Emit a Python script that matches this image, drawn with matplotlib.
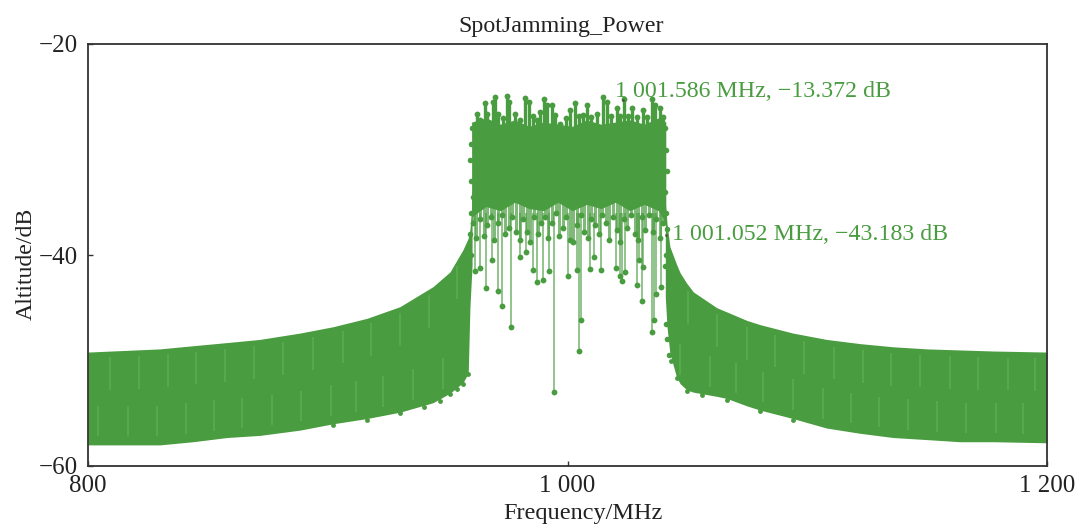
import numpy as np
import matplotlib
matplotlib.use('Agg')
import matplotlib.pyplot as plt

plt.rcParams['font.family'] = ['Liberation Serif', 'DejaVu Serif']

GREEN = '#4a9c40'
PALE = '#5fb352'
DARK = '#222222'

# skirts (MHz, dB)
left_freq = [800, 830, 843.8, 858, 871.7, 888.4, 902.2, 916.4, 930.1, 943.9, 951, 956.4, 958.6, 959.3, 960.2]
left_top = [-49.2, -48.9, -48.6, -48.3, -48.0, -47.4, -46.8, -46.0, -44.9, -43.0, -41.6, -39.5, -38.4, -37.6, -35.0]
left_low = [-58.0, -58.0, -57.7, -57.3, -57.1, -56.6, -56.0, -55.5, -54.9, -54.0, -53.1, -52.1, -51.2, -45.0, -41.0]

right_freq = [1040.8, 1041.5, 1042.7, 1045.5, 1047, 1049.8, 1052.5, 1062.3, 1066.5, 1074.8, 1080.3, 1094, 1108,
              1122, 1135.8, 1150, 1163.7, 1177.6, 1200]
right_top = [-35.0, -37.0, -39.2, -40.9, -41.7, -42.7, -43.5, -45.0, -45.4, -46.2, -46.6, -47.4, -48.0,
             -48.4, -48.7, -48.9, -49.0, -49.1, -49.2]
right_low = [-44.0, -46.8, -49.3, -51.6, -52.2, -52.8, -53.0, -53.4, -53.6, -54.3, -54.7, -55.5, -56.4,
             -56.9, -57.3, -57.5, -57.7, -57.7, -57.8]

# solid core of the jammed band
core_freq = [960, 966, 972, 978, 984, 990, 996, 1002, 1008, 1014, 1020, 1026, 1032, 1038, 1041]
core_top = [-27.4, -27.0, -27.6, -27.2, -27.8, -27.4, -27.6, -27.8, -27.2, -27.6, -27.4, -27.2, -27.6, -27.0, -27.4]
core_low = [-36.4, -35.4, -35.8, -35.0, -35.6, -35.8, -35.0, -35.8, -35.2, -35.6, -35.0, -35.8, -35.2, -35.8, -37.0]

# spike tips above the core
top_freq = [962.1, 963.6, 965.6, 966.3, 968.8, 969.7, 971.1, 973.0, 974.6, 975.6, 978.1, 980.0, 982.3, 984.1, 985.6,
            987.1, 988.5, 990.2, 991.3, 993.7, 994.8, 997.0, 999.2, 1001.0, 1003.1, 1005.0, 1006.6, 1008.0, 1010.0,
            1012.2, 1014.9, 1016.3, 1018.2, 1020.5, 1022.0, 1023.6, 1025.4, 1026.8, 1029.0, 1031.6, 1033.2, 1035.1,
            1036.5, 1038.6, 1040.0]
top_db = [-26.6, -27.2, -25.6, -26.6, -25.5, -25.0, -26.6, -27.0, -24.9, -25.5, -26.6, -27.2, -25.1, -25.5, -26.8,
          -27.2, -26.4, -25.2, -25.8, -25.8, -26.7, -27.6, -27.0, -26.3, -25.6, -26.8, -26.7, -25.8, -26.9,
          -26.6, -25.0, -25.5, -26.8, -26.1, -26.8, -25.2, -26.8, -26.1, -26.9, -26.3, -26.9, -25.2,
          -25.8, -26.1, -26.9]

# spike tips below the core
low_freq = [961.4, 963.5, 965.8, 968.6, 970.9, 972.5, 976.3, 980.2, 982.7, 985.7, 987.4, 989.9,
            992.4, 994.5, 1000.3, 1003.8, 1004.9, 1005.6, 1009.4, 1011.0, 1014.1, 1020.1, 1021.9,
            1022.9, 1024.0, 1028.8, 1030.0, 1030.9, 1031.6, 1035.1, 1036.1, 1037.0, 1038.8]
low_db = [-41.5, -41.2, -43.1, -40.5, -43.4, -44.8, -46.8, -40.2, -39.7, -41.4, -42.6, -42.4,
          -41.5, -53.0, -42.0, -41.4, -49.1, -46.2, -41.3, -40.2, -41.4, -41.2, -42.0,
          -42.5, -41.6, -42.8, -40.5, -44.4, -41.1, -47.3, -46.2, -43.7, -43.0]

# short dips just under the core
mid_freq = [960.5, 962, 963.5, 965, 966.5, 968, 969.5, 971, 972.5, 974, 975.5, 977, 978.5, 980, 981.5, 983, 984.5,
            986, 987.5, 989, 990.5, 992, 993.5, 995, 996.5, 998, 999.5, 1001, 1002.5, 1004, 1005.5, 1007, 1008.5,
            1010, 1011.5, 1013, 1014.5, 1016, 1017.5, 1019, 1020.5, 1022, 1023.5, 1025, 1026.5, 1028, 1029.5,
            1031, 1032.5, 1034, 1035.5, 1037, 1038.5, 1040]
mid_db = [-37.0, -38.4, -36.6, -38.2, -37.2, -36.4, -38.6, -37.0, -36.2, -38.0, -37.4, -36.4, -37.8, -38.6, -36.6, -37.8,
          -38.8, -36.4, -38.0, -37.0, -36.4, -38.4, -37.0, -36.0, -38.2, -37.4, -36.4, -38.6, -38.8, -37.2, -36.2,
          -37.8, -38.4, -36.6, -37.2, -38.0, -36.2, -37.0, -38.6, -36.4, -37.6, -38.8, -36.6, -37.4, -36.2, -38.0,
          -38.6, -36.4, -37.6, -36.2, -37.8, -36.6, -38.4, -37.0]

# bumpy columns down the two band edges
edge_left_freq = [960.2, 959.8, 959.4, 959.9, 960.4, 959.6, 959.2, 959.8]
edge_left_db = [-28.0, -29.5, -31.0, -33.0, -34.5, -36.0, -38.0, -40.0]
edge_right_freq = [1040.6, 1041.0, 1041.4, 1040.8, 1041.2, 1041.6, 1041.0, 1040.6, 1041.0, 1041.6, 1042.2]
edge_right_db = [-28.0, -30.0, -32.0, -34.0, -36.0, -37.5, -40.0, -41.0, -46.5, -48.0, -49.5]

# rough markers along the lower skirt edge
skirt_freq = [902.2, 916.4, 930.1, 940, 947, 951, 954, 956.4, 958.6, 1043, 1045.5, 1049.8, 1056, 1066.5, 1080.3, 1094]
skirt_db = [-56.1, -55.6, -55.0, -54.4, -53.8, -53.2, -52.7, -52.2, -51.3, -50.0, -51.7, -52.9, -53.3, -53.7, -54.8, -55.6]

# paler streaks inside the skirts
streak_upper = [809.2, 821.3, 833.4, 845, 857.1, 869.2, 881.3, 893.8, 906.4, 918, 930.1, 942.2, 953.9,
                1050.3, 1062.3, 1074.9, 1086.5, 1098.6, 1111.1, 1123.2, 1134.9, 1147, 1159.5, 1171.2, 1183.7, 1195]
streak_lower = [804, 816.7, 828.8, 840.9, 852.6, 864.2, 876.7, 889, 901.4, 911.8, 923, 935.6, 948,
                1046.9, 1059.4, 1070.3, 1081.5, 1094, 1106.6, 1118.3, 1130, 1142, 1154.1, 1166.2, 1178.7, 1190]

xticks = [800, 1000, 1200]
xtick_labels = ['800', '1 000', '1 200']
yticks = [-60, -40, -20]
ytick_labels = ['\u221260', '\u221240', '\u221220']

fig = plt.figure(figsize=(10.8, 5.27), dpi=100)
ax = fig.add_axes([88 / 1080, 1 - 466 / 527, 959 / 1080, 422 / 527])

all_freq = left_freq + right_freq
all_top = left_top + right_top
all_low = left_low + right_low

# skirts
ax.fill_between(left_freq, left_low, left_top, color=GREEN, lw=0)
ax.fill_between(right_freq, right_low, right_top, color=GREEN, lw=0)

# pale streaks
for fr in streak_upper:
    top = np.interp(fr, all_freq, all_top)
    ax.vlines(fr, top - 3.7, top - 0.6, color=PALE, lw=1.3, alpha=0.7)
for fr in streak_lower:
    low = np.interp(fr, all_freq, all_low)
    ax.vlines(fr, low + 0.8, low + 3.7, color=PALE, lw=1.3, alpha=0.7)

# band centre
ax.vlines(low_freq, -36, low_db, color=GREEN, lw=1.4, alpha=0.6)
ax.vlines(mid_freq, -34, mid_db, color=GREEN, lw=2.2, alpha=0.7)
ax.fill_between(core_freq, core_low, core_top, color=GREEN, lw=0)
ax.vlines(top_freq, -30, top_db, color=GREEN, lw=2.4)
ax.plot(top_freq, top_db, 'o', color=GREEN, ms=4.2, mew=0)
ax.plot(low_freq, low_db, 'o', color=GREEN, ms=4.2, mew=0)
ax.plot(mid_freq, mid_db, 'o', color=GREEN, ms=4.2, mew=0)
ax.plot(edge_left_freq, edge_left_db, 'o', color=GREEN, ms=4, mew=0)
ax.plot(edge_right_freq, edge_right_db, 'o', color=GREEN, ms=4, mew=0)
ax.plot(skirt_freq, skirt_db, 'o', color=GREEN, ms=3.5, mew=0)

# the two measurement markers
ax.plot([1023.3, 1041.2], [-25.3, -38.1], 'o', color='#55503f', ms=2, mew=0)
ax.text(1019.9, -24.5, '1 001.586 MHz, \u221213.372 dB', color=GREEN, fontsize=17.2, va='center')
ax.text(1043.6, -38.1, '1 001.052 MHz, \u221243.183 dB', color=GREEN, fontsize=17.2, va='center')

ax.set_xlim(800, 1200)
ax.set_ylim(-60, -20)
ax.set_xticks(xticks)
ax.set_xticklabels(xtick_labels)
ax.set_yticks(yticks)
ax.set_yticklabels(ytick_labels)
ax.tick_params(direction='in', length=3.5, width=1, color='#333333', labelsize=18, labelcolor=DARK)
ax.tick_params(axis='x', pad=6.5)
ax.tick_params(axis='y', pad=7)
for s in ax.spines.values():
    s.set_linewidth(1.3)
    s.set_color('#333333')

ax.text(997.5, -18.35, 'SpotJamming_Power', fontsize=17.3, color=DARK, ha='center', va='center')
ax.set_xlabel('Frequency/MHz', fontsize=17.5, labelpad=4.5, color=DARK, x=0.516)
ax.set_ylabel('Altitude/dB', fontsize=17.2, labelpad=2, color=DARK, y=0.48)

fig.savefig('out.png', dpi=100)
